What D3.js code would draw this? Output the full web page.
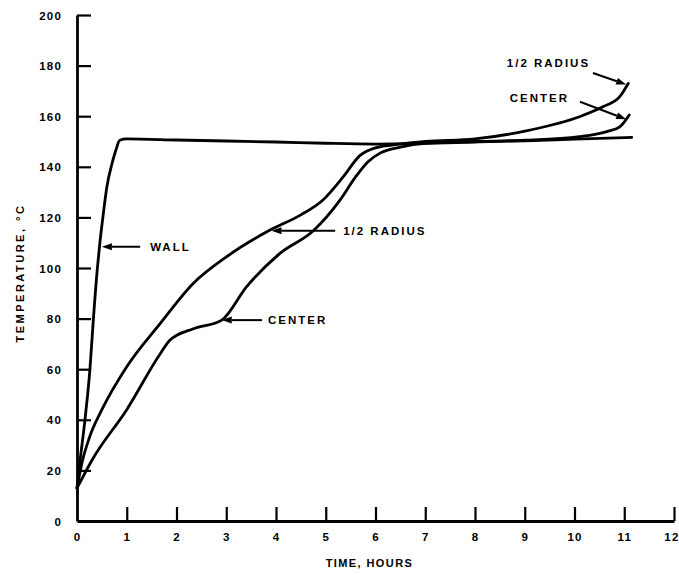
<!DOCTYPE html>
<html>
<head>
<meta charset="utf-8">
<script src="https://cdn.jsdelivr.net/npm/d3@7"></script>
<style>
  html, body { margin: 0; padding: 0; background: #fff; }
  svg { display: block; }
  text { font-family: "Liberation Sans", Arial, sans-serif; font-weight: bold; fill: #000; }
</style>
</head>
<body>
<svg id="chart" width="679" height="575"></svg>
<script>
// Temperature history of the wall, half radius and centre (time in hours, temperature in °C)
const wallTime  = [0, 0.05, 0.16, 0.26, 0.33, 0.41, 0.46, 0.52, 0.6, 0.7, 0.78, 0.86, 1, 2, 3, 4, 5, 6, 7, 8, 9, 10, 11.15];
const wallTemp  = [13, 22, 40, 60, 80, 100, 110, 120, 132, 141, 146.5, 150.5, 151, 150.6, 150.2, 149.8, 149.3, 149, 149.3, 149.8, 150.3, 150.9, 151.6];

const halfTime  = [0, 0.1, 0.25, 0.5, 1.0, 1.67, 2.34, 3.01, 3.88, 4.5, 4.95, 5.35, 5.69, 6.0, 6.5, 7, 8, 9.1, 10.1, 10.58, 10.91, 11.08];
const halfTemp  = [13, 23, 33, 44, 61, 78, 94, 104.5, 115, 121, 127, 136, 144.5, 147.5, 149, 150, 151, 154.5, 159.8, 163.8, 167.7, 172.9];

const centerTime = [0, 0.33, 1.0, 1.67, 1.87, 2.34, 2.91, 3.41, 4.08, 4.75, 5.29, 5.6, 5.85, 6.1, 6.5, 7, 8, 9, 10.1, 10.65, 10.91, 11.1];
const centerTemp = [13, 25, 44, 66, 71.5, 76, 79.4, 92.6, 105.8, 114.7, 126.9, 136, 142, 145.5, 147.8, 149.3, 150, 150.5, 151.9, 153.9, 155.8, 160.5];

const xTicks = [0, 1, 2, 3, 4, 5, 6, 7, 8, 9, 10, 11, 12];
const yTicks = [0, 20, 40, 60, 80, 100, 120, 140, 160, 180, 200];

const xTitle = "TIME, HOURS";
const yTitle = "TEMPERATURE, °C";

// Callout labels: text, label anchor, arrow tail and arrow tip (all in time/temperature units)
const callouts = [
  { text: "WALL",       label: [1.47, 108.4], tail: [1.27, 108.4], tip: [0.50, 108.4] },
  { text: "1/2 RADIUS", label: [5.35, 114.7], tail: [5.19, 114.7], tip: [3.91, 114.7] },
  { text: "CENTER",     label: [3.84, 79.4],  tail: [3.72, 79.4],  tip: [2.91, 79.4] },
  { text: "1/2 RADIUS", label: [8.64, 180.9], tail: [10.37, 177.1], tip: [11.04, 172.5] },
  { text: "CENTER",     label: [8.70, 167.1], tail: [10.11, 165.7], tip: [11.04, 158.8] }
];

const svg = d3.select("#chart");
const margin = { left: 77, right: 5, top: 15, bottom: 54 };
const W = 679, H = 575;

const x = d3.scaleLinear().domain([0, 12]).range([margin.left, W - margin.right]);
const y = d3.scaleLinear().domain([0, 200]).range([H - margin.bottom, margin.top]);

const lineW = 2.8;

// Axes with inward ticks
const xAxis = d3.axisBottom(x).tickValues(xTicks).tickFormat(d3.format("d")).tickSizeInner(-14).tickSizeOuter(0).tickPadding(18);
const yAxis = d3.axisLeft(y).tickValues(yTicks).tickFormat(d3.format("d")).tickSizeInner(-14).tickSizeOuter(0).tickPadding(15);

const gx = svg.append("g").attr("transform", `translate(0,${y(0)})`).call(xAxis);
const gy = svg.append("g").attr("transform", `translate(${x(0)},0)`).call(yAxis);

[gx, gy].forEach(g => {
  g.select(".domain").attr("stroke", "#000").attr("stroke-width", lineW);
  g.selectAll(".tick line").attr("stroke", "#000").attr("stroke-width", 2.2);
  g.selectAll(".tick text").style("font-size", "11.5px").style("letter-spacing", "1.2px");
});
gx.selectAll(".tick text").attr("dy", "0.2em");
gy.selectAll(".tick text").attr("dy", "0.35em");
gx.selectAll(".tick").filter(d => d === 0).select("line").remove();
gy.selectAll(".tick").filter(d => d === 0).select("line").remove();
// last x label sits flush with the right edge
gx.selectAll(".tick").filter(d => d === 12).select("text").attr("text-anchor", "end").attr("x", 5);

// Axis titles
svg.append("text")
  .attr("x", x(6) - 6).attr("y", 567)
  .attr("text-anchor", "middle")
  .style("font-size", "11px").style("letter-spacing", "1.4px")
  .text(xTitle);

svg.append("text")
  .attr("transform", `translate(24,${y(98)}) rotate(-90)`)
  .attr("text-anchor", "middle")
  .style("font-size", "11px").style("letter-spacing", "2.5px")
  .text(yTitle);

// Curves
const line = d3.line().x(d => x(d[0])).y(d => y(d[1])).curve(d3.curveMonotoneX);
const series = [
  d3.zip(wallTime, wallTemp),
  d3.zip(halfTime, halfTemp),
  d3.zip(centerTime, centerTemp)
];
svg.append("g").selectAll("path").data(series).join("path")
  .attr("d", line)
  .attr("fill", "none")
  .attr("stroke", "#000")
  .attr("stroke-width", lineW)
  .attr("stroke-linejoin", "round")
  .attr("stroke-linecap", "round");

// Callouts with arrows
const cg = svg.append("g");
callouts.forEach(c => {
  const x0 = x(c.tail[0]), y0 = y(c.tail[1]);
  const x1 = x(c.tip[0]),  y1 = y(c.tip[1]);
  const ang = Math.atan2(y1 - y0, x1 - x0);
  const len = 10, half = 3.5;
  const bx = x1 - len * Math.cos(ang), by = y1 - len * Math.sin(ang);
  cg.append("line")
    .attr("x1", x0).attr("y1", y0).attr("x2", bx).attr("y2", by)
    .attr("stroke", "#000").attr("stroke-width", 2);
  cg.append("path")
    .attr("d", `M${x1},${y1}L${bx + half * Math.sin(ang)},${by - half * Math.cos(ang)}L${bx - half * Math.sin(ang)},${by + half * Math.cos(ang)}Z`)
    .attr("fill", "#000");
  cg.append("text")
    .attr("x", x(c.label[0])).attr("y", y(c.label[1]))
    .attr("dy", "0.36em")
    .style("font-size", "11.5px").style("letter-spacing", "2px")
    .text(c.text);
});
</script>
</body>
</html>
